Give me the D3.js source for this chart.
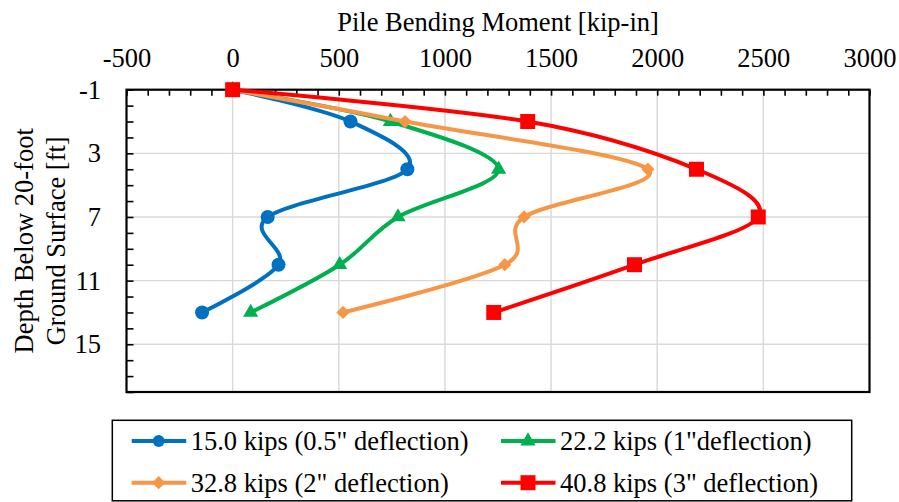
<!DOCTYPE html>
<html>
<head>
<meta charset="utf-8">
<script src="https://cdn.jsdelivr.net/npm/d3@7"></script>
<style>
  body { margin: 0; background: #fff; }
  text { font-family: "Liberation Serif", "Times New Roman", serif; fill: #000; }
</style>
</head>
<body>
<svg id="chart" width="899" height="502"></svg>
<script>
// ---- data ----
const depths = [-1, 1, 4, 7, 10, 13];
const m150 = [0, 555, 823, 165, 216, -144];
const m222 = [0, 743, 1253, 779, 504, 85];
const m328 = [0, 812, 1956, 1373, 1282, 520];
const m408 = [0, 1390, 2185, 2476, 1893, 1230];
const seriesNames = ['15.0 kips (0.5" deflection)', '22.2 kips (1"deflection)', '32.8 kips (2" deflection)', '40.8 kips (3" deflection)'];
const xTicks = [-500, 0, 500, 1000, 1500, 2000, 2500, 3000];
const yTicks = [-1, 3, 7, 11, 15];
const xTitle = "Pile Bending Moment [kip-in]";
const yTitle = ["Depth Below 20-foot", "Ground Surface [ft]"];

const colors = ["#0070C0", "#00B050", "#F79646", "#FF0000"];
const shapes = ["circle", "triangle", "diamond", "square"];
const seriesVals = [m150, m222, m328, m408];

const svg = d3.select("#chart");
const L = 126.5, R = 869.5, T = 89.7, B = 392;
const x = d3.scaleLinear().domain([-500, 3000]).range([L, R]);
const y = d3.scaleLinear().domain([-1, 18]).range([T, B]);
const FS = "26.5px";
const FF = '"Liberation Serif", "Times New Roman", serif';

// gridlines
const grid = svg.append("g");
grid.selectAll(".gx").data(xTicks.slice(1, -1)).join("line")
  .attr("x1", d => x(d)).attr("x2", d => x(d)).attr("y1", T).attr("y2", B)
  .attr("stroke", "#d9d9d9").attr("stroke-width", 1.4);
grid.selectAll(".gy").data(yTicks.slice(1)).join("line")
  .attr("x1", L).attr("x2", R).attr("y1", d => y(d)).attr("y2", d => y(d))
  .attr("stroke", "#d9d9d9").attr("stroke-width", 1.4);

// minor ticks (inside)
const xMinor = svg.append("g").attr("transform", `translate(0,${T})`)
  .call(d3.axisTop(x).tickValues(d3.range(-500, 3001, 100)).tickSize(-6).tickFormat(""));
xMinor.select(".domain").remove();
xMinor.selectAll("line").attr("stroke", "#000").attr("stroke-width", 1.6);
const yMinor = svg.append("g").attr("transform", `translate(${L},0)`)
  .call(d3.axisLeft(y).tickValues(d3.range(-1, 18.01, 1)).tickSize(-7).tickFormat(""));
yMinor.select(".domain").remove();
yMinor.selectAll("line").attr("stroke", "#000").attr("stroke-width", 1.6);

// tick labels
const xAx = svg.append("g").attr("transform", `translate(0,${T})`)
  .call(d3.axisTop(x).tickValues(xTicks).tickSize(0).tickPadding(22.7).tickFormat(d => String(d)));
xAx.select(".domain").remove();
xAx.attr("font-family", FF);
xAx.selectAll("text").style("font-family", FF).style("font-size", FS).attr("fill", "#000");
const yAx = svg.append("g").attr("transform", `translate(${L},0)`)
  .call(d3.axisLeft(y).tickValues(yTicks).tickSize(0).tickPadding(25.5).tickFormat(d => String(d)));
yAx.select(".domain").remove();
yAx.attr("font-family", FF);
yAx.selectAll("text").style("font-family", FF).style("font-size", FS).attr("fill", "#000");

// plot border
svg.append("rect").attr("x", L).attr("y", T).attr("width", R - L).attr("height", B - T)
  .attr("fill", "none").attr("stroke", "#000").attr("stroke-width", 2.2);

// titles
svg.append("text").attr("x", (L + R) / 2).attr("y", 31).attr("text-anchor", "middle")
  .style("font-family", FF).style("font-size", FS).text(xTitle);
svg.append("text").attr("transform", `translate(33,${(T + B) / 2}) rotate(-90)`).attr("text-anchor", "middle")
  .style("font-family", FF).style("font-size", FS).text(yTitle[0]);
svg.append("text").attr("transform", `translate(65,${(T + B) / 2}) rotate(-90)`).attr("text-anchor", "middle")
  .style("font-family", FF).style("font-size", FS).text(yTitle[1]);

// markers
function marker(sel, shape, color, scale) {
  const s = scale || 1;
  if (shape === "circle") {
    sel.append("circle").attr("r", 7 * s).attr("fill", color);
  } else if (shape === "square") {
    sel.append("rect").attr("x", -7.5 * s).attr("y", -7.5 * s).attr("width", 15 * s).attr("height", 15 * s).attr("fill", color);
  } else if (shape === "triangle") {
    sel.append("path").attr("d", d3.symbol(d3.symbolTriangle, 100 * s * s)()).attr("fill", color);
  } else if (shape === "diamond") {
    sel.append("path").attr("d", d3.symbol(d3.symbolSquare, 88 * s * s)()).attr("transform", "rotate(45)").attr("fill", color);
  }
}

// series
const line = d3.line().x(d => x(d[0])).y(d => y(d[1])).curve(d3.curveCatmullRom.alpha(0));
seriesVals.forEach((vals, i) => {
  const pts = vals.map((v, j) => [v, depths[j]]);
  const g = svg.append("g");
  g.append("path").attr("d", line(pts)).attr("fill", "none")
    .attr("stroke", colors[i]).attr("stroke-width", 4).attr("stroke-linejoin", "round");
  pts.forEach(p => {
    const m = g.append("g").attr("transform", `translate(${x(p[0])},${y(p[1])})`);
    marker(m, shapes[i], colors[i]);
  });
});

// legend
const lg = svg.append("g");
lg.append("rect").attr("x", 112.3).attr("y", 420.3).attr("width", 739.4).attr("height", 80.5)
  .attr("fill", "#fff").attr("stroke", "#000").attr("stroke-width", 1.5);
const colX = [131.7, 501];
const rowY = [441, 482.7];
seriesNames.forEach((name, i) => {
  const cx = colX[i % 2], cy = rowY[Math.floor(i / 2)];
  const e = lg.append("g").attr("transform", `translate(${cx},${cy})`);
  e.append("line").attr("x1", 0).attr("x2", 54.5).attr("y1", 0).attr("y2", 0)
    .attr("stroke", colors[i]).attr("stroke-width", 4);
  const m = e.append("g").attr("transform", "translate(27,0)");
  marker(m, shapes[i], colors[i], i === 0 ? 0.85 : 1);
  e.append("text").attr("x", 59).attr("y", 9).style("font-family", FF).style("font-size", FS).text(name);
});
</script>
</body>
</html>
